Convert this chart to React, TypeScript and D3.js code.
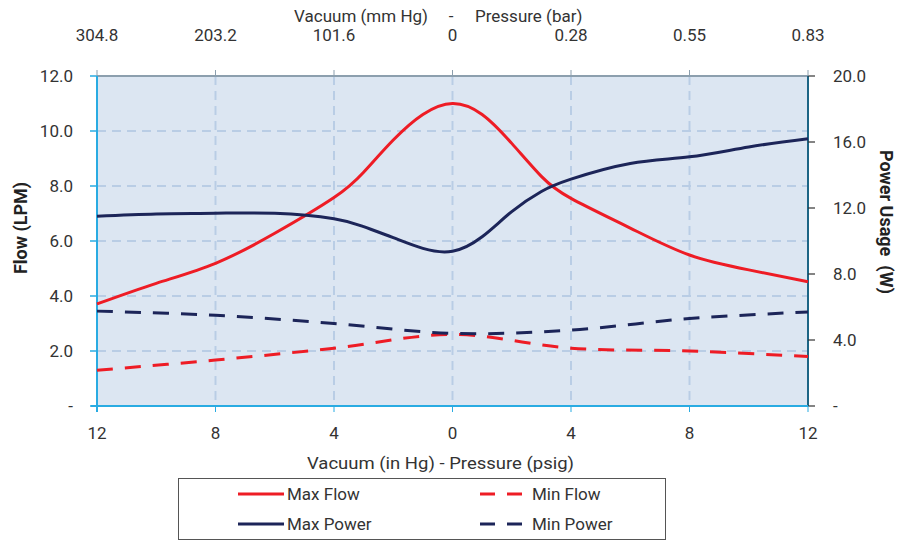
import React, { useEffect, useRef } from 'react';
import * as d3 from 'd3';

// x: negative = vacuum (in Hg), positive = pressure (psig)
const xTicks = [-12, -8, -4, 0, 4, 8, 12];
const bottomLabels = ['12', '8', '4', '0', '4', '8', '12'];
const topLabels = ['304.8', '203.2', '101.6', '0', '0.28', '0.55', '0.83'];
const flowTicks = [0, 2, 4, 6, 8, 10, 12];
const powerTicks = [0, 4, 8, 12, 16, 20];

const maxX = [-12, -10, -8, -6, -4, -3, -2, -1, 0, 1, 2, 3, 4, 6, 8, 10, 12];
const maxFlow = [3.71, 4.46, 5.19, 6.28, 7.58, 8.5, 9.67, 10.6, 11.0, 10.6, 9.55, 8.35, 7.55, 6.47, 5.49, 4.95, 4.52];
const maxPower = [11.5, 11.64, 11.68, 11.68, 11.35, 10.87, 10.2, 9.55, 9.38, 10.26, 11.78, 13.0, 13.75, 14.7, 15.1, 15.7, 16.2];

const minX = [-12, -8, -4, 0, 4, 8, 12];
const minFlow = [1.3, 1.67, 2.1, 2.6, 2.1, 2.0, 1.8];
const minPower = [5.75, 5.5, 5.0, 4.4, 4.6, 5.3, 5.7];

const RED = '#ee1c25';
const NAVY = '#1c2559';
const FONT = 'Roboto, "Noto Sans", sans-serif';

const App = () => {
  const svgRef = useRef(null);

  useEffect(() => {
    const svg = d3.select(svgRef.current);
    svg.selectAll('*').remove();

    const left = 97, right = 808, top = 76, bottom = 406;
    const x = d3.scaleLinear().domain([-12, 12]).range([left, right]);
    const yF = d3.scaleLinear().domain([0, 12]).range([bottom, top]);
    const yP = d3.scaleLinear().domain([0, 20]).range([bottom, top]);

    // plot background
    svg.append('rect')
      .attr('x', left).attr('y', top)
      .attr('width', right - left).attr('height', bottom - top)
      .attr('fill', '#dce6f2');

    // grid
    const grid = svg.append('g')
      .attr('stroke', '#b9cde5').attr('stroke-width', 2).attr('stroke-dasharray', '9,6');
    flowTicks.filter((d) => d > 0 && d < 12).forEach((d) => {
      grid.append('line').attr('x1', left).attr('x2', right).attr('y1', yF(d)).attr('y2', yF(d));
    });
    xTicks.filter((d) => d > -12 && d < 12).forEach((d) => {
      grid.append('line').attr('x1', x(d)).attr('x2', x(d)).attr('y1', top).attr('y2', bottom);
    });

    // borders
    svg.append('line').attr('x1', left).attr('x2', right).attr('y1', top).attr('y2', top)
      .attr('stroke', '#8c9fae').attr('stroke-width', 2);
    svg.append('line').attr('x1', right).attr('x2', right).attr('y1', top).attr('y2', bottom)
      .attr('stroke', '#1d6585').attr('stroke-width', 2);
    svg.append('line').attr('x1', left).attr('x2', left).attr('y1', top).attr('y2', bottom + 6)
      .attr('stroke', '#29abe2').attr('stroke-width', 2);
    svg.append('line').attr('x1', left - 6).attr('x2', right).attr('y1', bottom).attr('y2', bottom)
      .attr('stroke', '#29abe2').attr('stroke-width', 2);

    const txt = (sel) => sel.attr('font-family', FONT).attr('fill', '#333').attr('font-size', 17);

    // left axis
    flowTicks.forEach((d) => {
      svg.append('line').attr('x1', left - 7).attr('x2', left).attr('y1', yF(d)).attr('y2', yF(d))
        .attr('stroke', '#29abe2').attr('stroke-width', 1.5);
      svg.append('text').call(txt).attr('x', 73).attr('y', yF(d) + 6)
        .attr('text-anchor', 'end')
        .text(d === 0 ? '-' : d.toFixed(1));
    });
    // right axis
    powerTicks.forEach((d) => {
      svg.append('line').attr('x1', right).attr('x2', right + 7).attr('y1', yP(d)).attr('y2', yP(d))
        .attr('stroke', '#333').attr('stroke-width', 1.2);
      svg.append('text').call(txt).attr('x', 833).attr('y', yP(d) + 6)
        .text(d === 0 ? '-' : d.toFixed(1));
    });
    // bottom + top axes
    xTicks.forEach((d, i) => {
      svg.append('line').attr('x1', x(d)).attr('x2', x(d)).attr('y1', bottom).attr('y2', bottom + 6)
        .attr('stroke', '#29abe2').attr('stroke-width', 1);
      svg.append('text').call(txt).attr('x', x(d)).attr('y', 439)
        .attr('text-anchor', 'middle').text(bottomLabels[i]);
      svg.append('line').attr('x1', x(d)).attr('x2', x(d)).attr('y1', top - 6).attr('y2', top)
        .attr('stroke', '#8c9fae').attr('stroke-width', 1);
      svg.append('text').call(txt).attr('x', x(d)).attr('y', 41)
        .attr('text-anchor', 'middle').text(topLabels[i]);
    });

    // axis titles
    svg.append('text').call(txt).attr('x', 307).attr('y', 469)
      .attr('textLength', 267).attr('lengthAdjust', 'spacingAndGlyphs')
      .text('Vacuum (in Hg) - Pressure (psig)');
    svg.append('text').call(txt).attr('x', 428).attr('y', 22)
      .attr('text-anchor', 'end').text('Vacuum (mm Hg)');
    svg.append('text').call(txt).attr('x', 451).attr('y', 22)
      .attr('text-anchor', 'middle').text('-');
    svg.append('text').call(txt).attr('x', 475).attr('y', 22)
      .text('Pressure (bar)');
    svg.append('text').call(txt).attr('fill', '#222').attr('font-size', 18)
      .attr('transform', `translate(27,228) rotate(-90)`)
      .attr('text-anchor', 'middle').attr('font-weight', 'bold')
      .text('Flow (LPM)');
    svg.append('text').call(txt).attr('fill', '#222').attr('font-size', 18)
      .attr('transform', `translate(880,222) rotate(90)`)
      .attr('text-anchor', 'middle').attr('font-weight', 'bold')
      .attr('xml:space', 'preserve')
      .text('Power Usage  (W)');

    // series
    const series = [
      { xs: maxX, ys: maxFlow, y: yF, color: RED, dash: null, curve: d3.curveNatural },
      { xs: maxX, ys: maxPower, y: yP, color: NAVY, dash: null, curve: d3.curveNatural },
      { xs: minX, ys: minFlow, y: yF, color: RED, dash: '16,12', curve: d3.curveCatmullRom },
      { xs: minX, ys: minPower, y: yP, color: NAVY, dash: '16,12', curve: d3.curveCatmullRom },
    ];
    series.forEach((s) => {
      const line = d3.line()
        .x((d) => x(d[0]))
        .y((d) => s.y(d[1]))
        .curve(s.curve);
      svg.append('path')
        .datum(s.xs.map((v, i) => [v, s.ys[i]]))
        .attr('fill', 'none').attr('stroke', s.color).attr('stroke-width', 3)
        .attr('stroke-dasharray', s.dash)
        .attr('d', line);
    });

    // legend
    svg.append('rect').attr('x', 178.5).attr('y', 478.5).attr('width', 487).attr('height', 61)
      .attr('fill', '#fff').attr('stroke', '#555').attr('stroke-width', 1);
    const legend = [
      { label: 'Max Flow', color: RED, dash: null, lx: 238, ly: 494 },
      { label: 'Min Flow', color: RED, dash: '15,12', lx: 480, ly: 494 },
      { label: 'Max Power', color: NAVY, dash: null, lx: 238, ly: 524 },
      { label: 'Min Power', color: NAVY, dash: '15,12', lx: 480, ly: 524 },
    ];
    legend.forEach((l) => {
      svg.append('line').attr('x1', l.lx).attr('x2', l.dash ? l.lx + 42 : l.lx + 46)
        .attr('y1', l.ly).attr('y2', l.ly)
        .attr('stroke', l.color).attr('stroke-width', 3).attr('stroke-dasharray', l.dash);
      svg.append('text').call(txt).attr('x', l.dash ? l.lx + 52 : l.lx + 49).attr('y', l.ly + 6)
        .text(l.label);
    });
  }, []);

  return (
    <svg ref={svgRef} width={899} height={541}
      style={{ position: 'absolute', left: 0, top: 0, background: '#fff' }} />
  );
};

export default App;
